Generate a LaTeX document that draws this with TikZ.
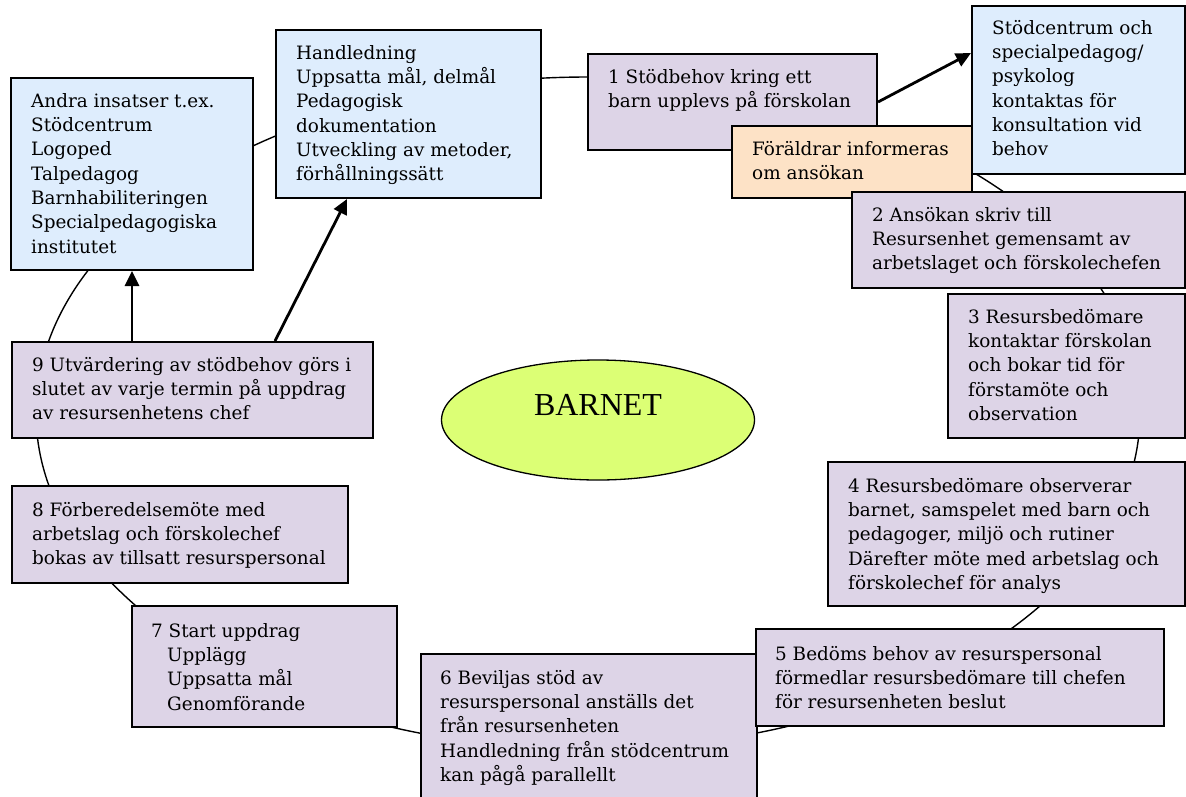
\documentclass[tikz,border=0pt]{standalone}
\usepackage{fontspec}
\usetikzlibrary{arrows.meta,shapes.geometric}
\newfontfamily\boxfont{DejaVu Serif}
\newfontfamily\bigfont{Liberation Serif}
\definecolor{purp}{RGB}{221,212,231}
\definecolor{lblue}{RGB}{222,237,253}
\definecolor{lorange}{RGB}{253,226,198}
\definecolor{lime}{RGB}{220,255,117}
\tikzset{
  box/.style={draw, line width=2pt, rectangle, anchor=north west, inner sep=0pt},
  txt/.style={anchor=north west, inner sep=0pt, align=left, font=\boxfont\fontsize{18.4}{24.3}\selectfont},
  arr/.style={line width=2.8pt, -{Triangle[length=15pt,width=14pt]}}
}
\begin{document}
\begin{tikzpicture}[x=1pt,y=-1pt]
\useasboundingbox (0,0) rectangle (1186,796);
% cycle backdrop
\draw[line width=1.4pt] (588,413) ellipse [x radius=552pt, y radius=336pt];
% boxes
\node[box, fill=lblue, minimum width=242pt, minimum height=192pt] (andra) at (10,77) {};
\node[txt] (tandra) at (31,90) {\strut Andra insatser t.ex.\\Stödcentrum\\Logoped\\Talpedagog\\Barnhabiliteringen\\Specialpedagogiska\\institutet};
\node[box, fill=lblue, minimum width=265pt, minimum height=168pt] (hand) at (275,29) {};
\node[txt] (thand) at (296,42) {\strut Handledning\\Uppsatta mål, delmål\\Pedagogisk\\dokumentation\\Utveckling av metoder,\\förhållningssätt};
\node[box, fill=purp, minimum width=289pt, minimum height=96pt] (b1) at (587,53) {};
\node[txt] (tb1) at (608,66) {\strut 1 Stödbehov kring ett\\barn upplevs på förskolan};
\node[box, fill=lblue, minimum width=213pt, minimum height=168pt] (stod) at (971,5) {};
\node[txt] (tstod) at (992,17) {\strut Stödcentrum och\\specialpedagog/\\psykolog\\kontaktas för\\konsultation vid\\behov};
\node[box, fill=lorange, minimum width=240pt, minimum height=72pt] (foraldrar) at (731,125) {};
\node[txt] (tforaldrar) at (752,138) {\strut Föräldrar informeras\\om ansökan};
\node[box, fill=purp, minimum width=333pt, minimum height=96pt] (b2) at (851,191) {};
\node[txt] (tb2) at (872,204) {\strut 2 Ansökan skriv till\\Resursenhet gemensamt av\\arbetslaget och förskolechefen};
\node[box, fill=purp, minimum width=237pt, minimum height=144pt] (b3) at (947,293) {};
\node[txt] (tb3) at (968,306) {\strut 3 Resursbedömare\\kontaktar förskolan\\och bokar tid för\\förstamöte och\\observation};
\node[box, fill=purp, minimum width=357pt, minimum height=144pt] (b4) at (827,461) {};
\node[txt] (tb4) at (848,475) {\strut 4 Resursbedömare observerar\\barnet, samspelet med barn och\\pedagoger, miljö och rutiner\\Därefter möte med arbetslag och\\förskolechef för analys};
\node[box, fill=purp, minimum width=336pt, minimum height=160pt] (b6) at (420,653) {};
\node[txt] (tb6) at (440,667) {\strut 6 Beviljas stöd av\\resurspersonal anställs det\\från resursenheten\\Handledning från stödcentrum\\kan pågå parallellt};
\node[box, fill=purp, minimum width=408pt, minimum height=97pt] (b5) at (755,628) {};
\node[txt] (tb5) at (775,643) {\strut 5 Bedöms behov av resurspersonal\\förmedlar resursbedömare till chefen\\för resursenheten beslut};
\node[box, fill=purp, minimum width=265pt, minimum height=121pt] (b7) at (131,605) {};
\node[txt] (tb7) at (151,620) {\strut 7 Start uppdrag\\\hspace*{16pt}Upplägg\\\hspace*{16pt}Uppsatta mål\\\hspace*{16pt}Genomförande};
\node[box, fill=purp, minimum width=336pt, minimum height=97pt] (b8) at (11,485) {};
\node[txt] (tb8) at (32,499) {\strut 8 Förberedelsemöte med\\arbetslag och förskolechef\\bokas av tillsatt resurspersonal};
\node[box, fill=purp, minimum width=361pt, minimum height=96pt] (b9) at (11,341) {};
\node[txt] (tb9) at (32,354) {\strut 9 Utvärdering av stödbehov görs i\\slutet av varje termin på uppdrag\\av resursenhetens chef};
% centre
\node[draw, line width=1.3pt, fill=lime, ellipse, minimum width=313pt, minimum height=120pt, inner sep=0pt] (barnet) at (598,420) {};
\node[font=\bigfont\fontsize{32}{36}\selectfont, anchor=base, inner sep=0pt] (tbarnet) at (598,415) {BARNET};
% arrows
\draw[arr] (b1.east) -- ([yshift=-48pt]stod.north west);
\draw[arr] (andra.south |- b9.north) -- (andra.south);
\draw[arr] ([xshift=264pt]b9.north west) -- ([xshift=72pt]hand.south west);
\end{tikzpicture}
\end{document}
